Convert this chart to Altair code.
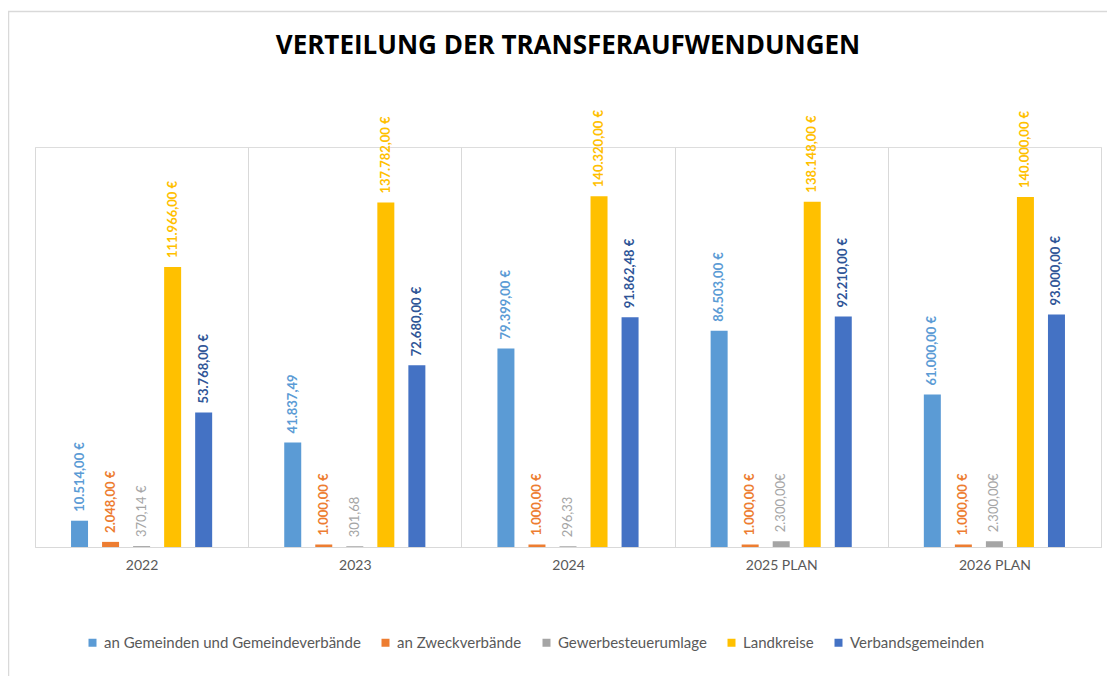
import altair as alt
import pandas as pd

years = ["2022", "2023", "2024", "2025 PLAN", "2026 PLAN"]
series = ["an Gemeinden und Gemeindeverbände", "an Zweckverbände", "Gewerbesteuerumlage",
          "Landkreise", "Verbandsgemeinden"]
colors = ["#5B9BD5", "#ED7D31", "#A5A5A5", "#FFC000", "#4472C4"]
label_colors = ["#5B9BD5", "#ED7D31", "#A5A5A5", "#FFC000", "#2F5597"]
bold_series = ["an Gemeinden und Gemeindeverbände", "an Zweckverbände", "Landkreise",
               "Verbandsgemeinden"]

gemeinden = [10514.00, 41837.49, 79399.00, 86503.00, 61000.00]
zweck = [2048.00, 1000.00, 1000.00, 1000.00, 1000.00]
gewerbe = [370.14, 301.68, 296.33, 2300.00, 2300.00]
landkreise = [111966.00, 137782.00, 140320.00, 138148.00, 140000.00]
vg = [53768.00, 72680.00, 91862.48, 92210.00, 93000.00]

gemeinden_lbl = ["10.514,00 €", "41.837,49", "79.399,00 €", "86.503,00 €", "61.000,00 €"]
zweck_lbl = ["2.048,00 €", "1.000,00 €", "1.000,00 €", "1.000,00 €", "1.000,00 €"]
gewerbe_lbl = ["370,14 €", "301,68", "296,33", "2.300,00€", "2.300,00€"]
landkreise_lbl = ["111.966,00 €", "137.782,00 €", "140.320,00 €", "138.148,00 €", "140.000,00 €"]
vg_lbl = ["53.768,00 €", "72.680,00 €", "91.862,48 €", "92.210,00 €", "93.000,00 €"]

rows = []
for s, vals, lbls in zip(series, [gemeinden, zweck, gewerbe, landkreise, vg],
                         [gemeinden_lbl, zweck_lbl, gewerbe_lbl, landkreise_lbl, vg_lbl]):
    for y, v, l in zip(years, vals, lbls):
        rows.append({"Jahr": y, "Serie": s, "Wert": v, "Label": l})
df = pd.DataFrame(rows)

x_enc = alt.X("Jahr:N", sort=years, title=None,
              scale=alt.Scale(paddingInner=0, paddingOuter=0),
              axis=alt.Axis(labelAngle=0, grid=True, tickBand="extent", gridColor="#D9D9D9",
                            domainColor="#D9D9D9", ticks=False, labelColor="#595959",
                            labelFont="Lato", labelFontSize=14, labelPadding=11))
xo_enc = alt.XOffset("Serie:N", sort=series,
                     scale=alt.Scale(paddingInner=0, paddingOuter=0.935))
y_enc = alt.Y("Wert:Q", scale=alt.Scale(domain=[0, 160000]), axis=None)

base = alt.Chart(df)

bars = base.mark_bar(width=17).encode(
    x=x_enc, xOffset=xo_enc, y=y_enc,
    color=alt.Color("Serie:N", sort=series, title=None,
                    scale=alt.Scale(domain=series, range=colors),
                    legend=alt.Legend(orient="none", direction="horizontal", columns=5,
                                      legendX=50, legendY=488, symbolType="square",
                                      symbolSize=64, labelFont="Lato", labelFontSize=15,
                                      labelColor="#595959", columnPadding=17,
                                      labelLimit=0, symbolStrokeWidth=0))
)

def labels(filt, weight):
    return base.transform_filter(filt).mark_text(
        angle=270, align="left", baseline="middle", dx=9, font="Lato",
        fontSize=13, fontWeight=weight
    ).encode(
        x=x_enc, xOffset=xo_enc, y=y_enc, text="Label:N",
        color=alt.Color("Serie:N", sort=series,
                        scale=alt.Scale(domain=series, range=label_colors), legend=None)
    )

bold_filter = alt.FieldOneOfPredicate(field="Serie", oneOf=bold_series)
normal_filter = {"not": alt.FieldOneOfPredicate(field="Serie", oneOf=bold_series)}

border = alt.Chart(pd.DataFrame({"k": [0]})).mark_rect(
    fill="transparent", stroke="#D9D9D9", strokeWidth=1.5
).encode(x=alt.value(-26.5), x2=alt.value(1200), y=alt.value(-135.5), y2=alt.value(700))

chart = alt.layer(border, bars, labels(bold_filter, "bold"),
                  labels(normal_filter, "normal")).resolve_scale(
    color="independent"
).properties(
    width=1066, height=400,
    title=alt.Title("VERTEILUNG DER TRANSFERAUFWENDUNGEN", font="Open Sans", fontSize=26,
                    fontWeight="bold", color="#000000", anchor="middle", offset=-48),
    autosize=alt.AutoSizeParams(type="none"),
    padding={"left": 27, "top": 139, "right": 6, "bottom": 129},
).configure_view(stroke=None).configure(background="white")

chart.save("out.html", embed_options={"renderer": "svg", "actions": False})
